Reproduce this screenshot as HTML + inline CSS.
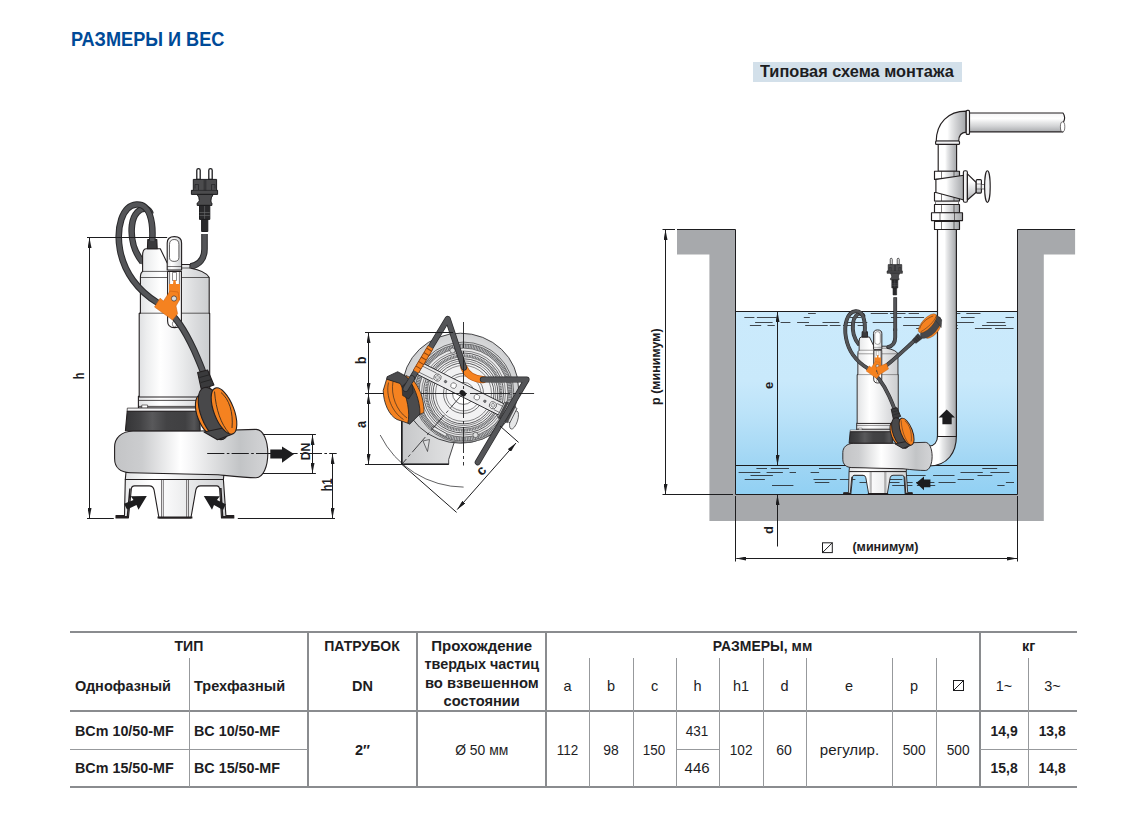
<!DOCTYPE html>
<html lang="ru">
<head>
<meta charset="utf-8">
<title>Размеры и вес</title>
<style>
html,body{margin:0;padding:0;background:#fff;}
body{width:1142px;height:828px;position:relative;overflow:hidden;font-family:"Liberation Sans",sans-serif;color:#1d1d1f;}
h1{position:absolute;left:70.5px;top:26.8px;margin:0;font-size:20.8px;line-height:24px;font-weight:bold;color:#004a98;white-space:nowrap;transform-origin:0 50%;transform:scaleX(.872);}
.cap{position:absolute;left:753px;top:62px;width:209px;height:20px;background:#d3e0ea;}
.cap span{position:absolute;left:7px;top:-1px;line-height:20px;font-size:16.5px;font-weight:bold;color:#1d1d1f;white-space:nowrap;transform-origin:0 50%;transform:scaleX(.99);}
#draw{position:absolute;left:0;top:0;}
/* table */
#tbl{position:absolute;left:70px;top:631px;width:1007px;height:157px;}
#tbl .ln{position:absolute;background:#8a8c8f;}
#tbl .tn{position:absolute;background:#97999c;}
table{position:absolute;left:0;top:2px;border-collapse:collapse;table-layout:fixed;width:1007px;font-size:14.5px;}
td,th{padding:0;margin:0;text-align:center;vertical-align:middle;font-weight:normal;white-space:nowrap;overflow:visible;}
th{font-weight:bold;}
.b{font-weight:bold;}
.l{text-align:left;padding-left:6px;}
td.l,th.l{padding-left:5px;}
.t{display:inline-block;}
tr.r1{height:25px;} tr.r2{height:54px;} tr.r3{height:38px;} tr.r4{height:36px;}
tr.r1 th{vertical-align:top;line-height:17px;padding-top:5px;}
tr.r1 th.ml{line-height:18.3px;padding-top:4px;}
tr.r2 th,tr.r2 td{vertical-align:top;line-height:17px;padding-top:20px;}
tr.r3 td,tr.r4 td{line-height:17px;}
td.m .t{position:relative;top:1.5px;}
tr.r4 td .t{position:relative;top:.5px;}
tr.r2 svg{position:relative;top:-1px;}

</style>
</head>
<body>
<h1>РАЗМЕРЫ И ВЕС</h1>
<div class="cap"><span>Типовая схема монтажа</span></div>

<svg id="draw" width="1142" height="828" viewBox="0 0 1142 828" font-family="Liberation Sans, sans-serif">
<defs>
<linearGradient id="gBody" x1="0" x2="1" y1="0" y2="0">
 <stop offset="0" stop-color="#dfe0e2"/><stop offset=".1" stop-color="#ecedee"/><stop offset=".3" stop-color="#ffffff"/><stop offset=".42" stop-color="#f9f9fa"/><stop offset=".62" stop-color="#e9eaeb"/><stop offset=".8" stop-color="#dadbdd"/><stop offset="1" stop-color="#cbcdcf"/>
</linearGradient>
<linearGradient id="gVol" x1="0" x2="1" y1="0" y2="0">
 <stop offset="0" stop-color="#c3c4c6"/><stop offset=".18" stop-color="#cccdcf"/><stop offset=".43" stop-color="#ffffff"/><stop offset=".5" stop-color="#f6f6f7"/><stop offset=".82" stop-color="#c2c4c6"/><stop offset=".93" stop-color="#cdced0"/><stop offset="1" stop-color="#d3d4d6"/>
</linearGradient>
<linearGradient id="gBand" x1="0" x2="1" y1="0" y2="0">
 <stop offset="0" stop-color="#353537"/><stop offset=".2" stop-color="#434345"/><stop offset=".36" stop-color="#59595b"/><stop offset=".55" stop-color="#434345"/><stop offset=".8" stop-color="#404042"/><stop offset=".92" stop-color="#555557"/><stop offset="1" stop-color="#3a3a3c"/>
</linearGradient>
<linearGradient id="gPipeH" x1="0" x2="0" y1="0" y2="1">
 <stop offset="0" stop-color="#f4f4f5"/><stop offset=".3" stop-color="#ffffff"/><stop offset=".5" stop-color="#e7e8e9"/><stop offset=".7" stop-color="#d2d3d5"/><stop offset="1" stop-color="#a9abae"/>
</linearGradient>
<linearGradient id="gPipeV" x1="0" x2="1" y1="0" y2="0">
 <stop offset="0" stop-color="#ffffff"/><stop offset=".37" stop-color="#ffffff"/><stop offset=".5" stop-color="#e7e8e9"/><stop offset=".65" stop-color="#d2d3d5"/><stop offset="1" stop-color="#a3a5a8"/>
</linearGradient>
<linearGradient id="gWater" x1="0" x2="0" y1="0" y2="1">
 <stop offset="0" stop-color="#cbeafc"/><stop offset=".375" stop-color="#c9e9fb"/><stop offset=".55" stop-color="#bce3f9"/><stop offset=".7" stop-color="#addcf6"/><stop offset=".82" stop-color="#a1d6f4"/><stop offset="1" stop-color="#91d0f3"/>
</linearGradient>
<radialGradient id="gTop" cx=".5" cy=".5" r=".55">
 <stop offset="0" stop-color="#f1f1f2"/><stop offset=".6" stop-color="#e3e4e5"/><stop offset="1" stop-color="#c9cacc"/>
</radialGradient>
<marker id="arr" viewBox="0 0 10 4" refX="10" refY="2" markerWidth="10" markerHeight="4" orient="auto-start-reverse" markerUnits="userSpaceOnUse"><path d="M0 0L10 2L0 4Z" fill="#1d1d1f"/></marker>
<linearGradient id="gOut" x1="0" x2="1" y1="0" y2="0">
 <stop offset="0" stop-color="#c6c7c9"/><stop offset=".5" stop-color="#d9dadb"/><stop offset="1" stop-color="#e8e8e9"/>
</linearGradient>
</defs>

<g id="pump" stroke="#231f20" style="stroke-width:var(--sw,1.1px)" stroke-linejoin="round">
 <!-- inner cable strand behind cap -->
 <path d="M142.5,262 C134,252 130.5,238 132,225 C133.3,214 140,207.3 146.5,209 C148.8,209.8 150,211.5 150.6,214" fill="none" stroke="#2a2a2c" stroke-width="6.6" stroke-linecap="butt"/>
 <path d="M142.5,262 C134,252 130.5,238 132,225 C133.3,214 140,207.3 146.5,209 C148.8,209.8 150,211.5 150.6,214" fill="none" stroke="#545558" stroke-width="4.6" stroke-linecap="round"/>
 <!-- plug cable lower part -->
 <path d="M204.5,234 L204.5,249 C204.5,259 199,265 190.5,266.5" fill="none" stroke="#2a2a2c" stroke-width="6.6"/>
 <path d="M204.5,234 L204.5,249 C204.5,259 199,265 190.5,266.5" fill="none" stroke="#545558" stroke-width="4.6"/>
 <!-- legs -->
 <path d="M116,518 L116,515.6 L124.5,515.6 L125.3,479.5 L223.4,479.5 L225.9,515.6 L233.8,515.6 L233.8,518 L221.5,518 L219.7,489.6 Q219.3,485.9 216.7,485.9 L200.7,485.9 Q196.5,485.9 195.8,490.2 L190.9,518 L159,518 L154.1,490.2 Q153.4,485.9 149.2,485.9 L134.5,485.9 Q131.8,485.9 131.4,488.4 L128.4,518 Z" fill="url(#gBody)"/>
 <path d="M161.5,479.5V517M163.3,479.5V517M186.6,479.5V517M188.5,479.5V517" fill="none" stroke-width=".6"/>
 <path d="M116,517H128.4M221.5,517H233.8M157.5,517.4H192.4" fill="none" stroke-width="2"/>
 <path d="M127.5,516 L130,488.5 M222.5,516 L220.8,488" fill="none" stroke-width="1.6"/>
 <!-- plate between volute and legs -->
 <path d="M126,472 L125.3,479.5 L223.4,479.5 L224,474 Z" fill="url(#gBody)"/>
 <!-- volute -->
 <path d="M133,431 C121,431.5 114.6,438 114.6,447 L114.6,458.5 C114.6,467.5 120.5,472.4 130,472.7 L218,474.8 C233,476.3 245,477.7 256,477.7 C263.5,477.7 267.8,466 267.8,453.5 C267.8,441 263.5,429.4 256,429.4 L200,431 Z" fill="url(#gVol)"/>
 <!-- body lower rings -->
 <rect x="138.4" y="396.4" width="71.6" height="11.7" fill="url(#gBody)"/>
 <path d="M138.4,400.4H210M138.4,406.4H210" fill="none" stroke-width=".8"/>
 <rect x="141.8" y="405" width="5.8" height="3.1" fill="#fff" stroke-width=".6"/>
 <!-- dark band -->
 <path d="M127.3,408.1 H199 L199.3,411.4 H127.1 Z" fill="#f4f4f5" stroke-width=".7"/>
 <path d="M127.2,411.2 L199.4,411.2 L200.2,430.8 L125.4,430.8 Z" fill="url(#gBand)"/>
 <!-- body -->
 <path d="M139.2,397 L139.2,313.2 L140.4,313.2 L140.4,277.5 Q140.4,272.5 142.6,271.4 L142.6,256 Q142.6,248.8 146,248.8 L160.3,248.8 L167.2,263 L181.6,264.5 L190,264.5 L190,268 Q206,271 209.2,277.5 L209.2,313.2 L209.7,313.2 L209.7,397 Z" fill="url(#gBody)"/>
 <path d="M140.4,277.5H167.6M181.4,277.5H209.2M139.2,313.2H167.6M181.4,313.2H209.7M142.6,271.4H167.2M181.6,268H190" fill="none" stroke-width=".7"/>
 <!-- slot -->
 <path d="M167.6,271.4 L167.6,321 Q167.6,327.6 174.5,327.6 Q181.4,327.6 181.4,321 L181.4,271.4 Z" fill="#fff"/>
 <path d="M169.6,271.4V300M179.4,271.4V300" fill="none" stroke-width=".6"/>
 <rect x="172.5" y="272.5" width="4" height="8" fill="#fff" stroke-width=".5"/>
 <path d="M169,284 L173,284 L173.5,280 L175.5,280 L176,284 L180,284 L180,300 L169,300 Z" fill="#f58220" stroke="none"/>
 <ellipse cx="174.5" cy="324" rx="2.2" ry="2.8" fill="#fff" stroke-width=".5"/>
 <!-- handle -->
 <path d="M167.2,270 L167.2,243 Q167.2,236.6 174.4,236.6 Q181.6,236.6 181.6,243 L181.6,270 Z" fill="url(#gBody)"/>
 <path d="M169.5,244.5 Q169.5,239.5 174.2,239.5 Q178.9,239.5 178.9,244.5 L178.9,257.5 Q178.9,261.4 174.2,261.4 Q169.5,261.4 169.5,257.5 Z" fill="#fff" stroke-width=".7"/>
 <path d="M167.2,266.5H181.6" fill="none" stroke-width=".6"/>
 <!-- connector -->
 <path d="M147.8,239.6 L156.8,239.6 L157.2,248.8 L147.4,248.8 Z" fill="#3a3a3c"/>
 <!-- outer cable loop to float -->
 <path id="cab1" d="M152.2,241 C153.5,222 150,203.5 136.5,204.5 C122,205.5 116,228 120,250 C124,272 138,291 158,303 C176,314 186,333 194,350 C198,359 201,366 203.5,373" fill="none" stroke="#2a2a2c" stroke-width="6.6"/>
 <path d="M152.2,241 C153.5,222 150,203.5 136.5,204.5 C122,205.5 116,228 120,250 C124,272 138,291 158,303 C176,314 186,333 194,350 C198,359 201,366 203.5,373" fill="none" stroke="#545558" stroke-width="4.6"/>
 <!-- clip -->
 <path d="M154.5,307 L160.1,298.2 L163.5,301 L170,291 L178,292 L179.5,300 L176,306 L177.6,313.8 L172.6,320.1 Z" fill="#f58220" stroke="#c15a10" stroke-width=".5"/>
 <circle cx="174" cy="298.5" r="2.6" fill="#d9dadb" stroke-width=".6"/>
 <!-- float -->
 <g id="float">
 <path d="M197.6,372.5 L207.6,370 L213.9,385 L201.3,389.4 Z" fill="#3a3a3c"/>
 <path d="M199.5,377.5l9.5,-2.6M201,382.5l10.5,-3" fill="none" stroke="#111" stroke-width=".5"/>
 <ellipse cx="208" cy="415" rx="10.5" ry="22" transform="rotate(-21 208 415)" fill="#f58220"/>
 <ellipse cx="213.5" cy="413.5" rx="12.5" ry="27.5" transform="rotate(-21 213.5 413.5)" fill="#48484a"/>
 <path d="M204,432 L217.5,439.8 L231.5,434.5 L228,427 Z" fill="#48484a"/>
 <ellipse cx="224" cy="411" rx="10" ry="24.5" transform="rotate(-21 224 411)" fill="#f58220"/>
 <path d="M221,392.5 C229,399 233.5,412 232,428" fill="none" stroke-width=".8"/>
 <path d="M214.5,391.5 C216,410 221,424 229,433" fill="none" stroke-width=".8"/>
 </g>
</g>
<!-- plug (big) -->
<g id="plug" stroke="#1d1d1f" stroke-width="1" stroke-linejoin="round">
 <path d="M196.8,179.5V170.3Q196.8,168.6 198.5,168.6Q200.2,168.6 200.2,170.3V179.5Z" fill="#fff" stroke-width="1.3"/>
 <path d="M208.8,179.5V170.3Q208.8,168.6 210.5,168.6Q212.2,168.6 212.2,170.3V179.5Z" fill="#fff" stroke-width="1.3"/>
 <path d="M193.3,179.4H216.6V190.4H217.6V194.4H191.4V190.4H193.3Z" fill="#4b4b4d"/>
 <path d="M191.4,190.4H217.6M204.2,180V190.4M205.8,180V190.4M195,188.5V184.5H198.5V190M215,188.5V184.5H211.5V190" fill="none" stroke-width=".6"/>
 <path d="M197,194.4 H213.2 Q210.6,198 210.9,201 Q211.2,203 211.9,203 V205.4 H197.2 V203 Q198.6,203 199.3,200.5 Q199.5,197 197,194.4Z" fill="#4b4b4d"/>
 <path d="M199.5,205.4H209.8V219.4H199.5Z" fill="#2a2a2c"/>
 <path d="M199.5,212.5H209.8M199.5,215.5H209.8M204.6,206V219" fill="none" stroke="#6d6e70" stroke-width=".6"/>
 <path d="M201.6,219.4H207.8V231.5H201.6Z" fill="#2a2a2c"/>
</g>
<!-- dimensions left -->
<g fill="none" stroke="#1d1d1f" stroke-width="1">
 <path d="M87,237.5H167.2M87,518.5H113.8M237.8,518.5H335"/>
 <path d="M89.5,238V518" marker-start="url(#arr)" marker-end="url(#arr)"/>
 <path d="M207.2,453.5H336.7" stroke-dasharray="17.2 2.4 2.6 2.2"/>
 <path d="M262.8,434.5H315.9M262.8,473.5H315.9"/>
 <path d="M312.5,435V473" marker-start="url(#arr)" marker-end="url(#arr)"/>
 <path d="M332.5,454V518" marker-start="url(#arr)" marker-end="url(#arr)"/>
</g>
<g fill="#1d1d1f" stroke="none">
 <path d="M270.3,449.5H282V446.4L294.1,454L282,462.7V458.5H270.3Z"/>
 <path d="M146.8,496 L130.8,496.3 L133.5,500 L124,503.7 L127,509.5 L136.5,505 L138.5,509.8 Z"/>
 <path d="M203.8,496 L219.8,496.3 L217,500 L225.8,504.3 L223,510 L214,505 L212,509.8 Z"/>
</g>
<g font-weight="bold" font-size="14" fill="#1d1d1f" text-anchor="middle">
 <text transform="translate(84.2,375.9) rotate(-90)" textLength="6.6" lengthAdjust="spacingAndGlyphs">h</text>
 <text transform="translate(309.9,451.4) rotate(-90)" font-size="13.2" textLength="17.6" lengthAdjust="spacingAndGlyphs">DN</text>
 <text transform="translate(331.5,484.8) rotate(-90)" textLength="12.8" lengthAdjust="spacingAndGlyphs">h1</text>
</g>

<g stroke="#1d1d1f" stroke-width=".8" stroke-linejoin="round">
 <!-- outlet -->
 <path d="M401.8,400 L401.8,464.3 L448.7,464.3 L448.7,459.5 L454,443 L470,430 Z" fill="url(#gOut)"/>
 <path d="M401.8,420V464.3H448.7" fill="none" stroke-width="1.6"/>
 <ellipse cx="514" cy="420" rx="3.6" ry="9.5" transform="rotate(18 514 420)" fill="#e6e7e8" stroke-width=".6"/>
 <!-- volute body -->
 <ellipse cx="460.5" cy="388.2" rx="58" ry="55" fill="url(#gTop)"/>
 <!-- ribbed ring -->
 <circle cx="463.5" cy="392.3" r="50.2" fill="#dfe0e1" stroke-width=".6"/>
 <circle cx="463.5" cy="392.6" r="46.6" fill="#e9e9ea" stroke="#bfc0c2" stroke-width="4"/>
 <circle cx="463.5" cy="392.6" r="46.6" fill="none" stroke="#5c5d60" stroke-width="3.4" stroke-dasharray=".7 .9"/>
 <circle cx="463.5" cy="392.6" r="48.7" fill="none" stroke-width=".5"/>
 <circle cx="463.5" cy="392.6" r="44.5" fill="none" stroke-width=".6"/>
 <circle cx="463.5" cy="393" r="42" fill="none" stroke-width=".5"/>
 <circle cx="463.5" cy="393" r="40" fill="#ededee" stroke-width=".7"/>
 <circle cx="463.5" cy="393" r="37.6" fill="none" stroke="#c4c5c7" stroke-width="2.4"/>
 <circle cx="463.5" cy="393" r="37.6" fill="none" stroke="#58595b" stroke-width="2.2" stroke-dasharray=".7 .9"/>
 <circle cx="463.5" cy="393" r="36.2" fill="none" stroke-width=".5"/>
 <circle cx="463.5" cy="393.2" r="34.4" fill="#f2f2f3" stroke-width=".7"/>
 <circle cx="463.5" cy="393.2" r="32.4" fill="none" stroke-width=".5"/>
 <circle cx="463.5" cy="393.4" r="30.5" fill="none" stroke-width=".7"/>
 <circle cx="463.5" cy="393.4" r="28" fill="none" stroke-width=".5"/>
 <circle cx="463.5" cy="393.4" r="20" fill="#f7f7f8" stroke-width=".6"/>
 <circle cx="463.5" cy="393.4" r="17.5" fill="none" stroke-width=".5"/>
 <circle cx="463.5" cy="393.4" r="11" fill="#fff" stroke-width=".6"/>
 <!-- bolt bumps -->
 <circle cx="452.5" cy="350.5" r="2.6" fill="#dcddde" stroke-width=".5"/>
 <circle cx="475.5" cy="435" r="2.6" fill="#dcddde" stroke-width=".5"/>
 <path d="M433,426 l14,8 l-1.5,2.5 l-14,-8 Z" fill="#e6e7e8" stroke-width=".5"/>
 <!-- small triangle on outlet -->
 <path d="M423,441 L429.5,439.5 L427.5,451.5 Z" fill="#dcddde" stroke-width=".6"/>
 <!-- diagonal bar -->
 <g transform="translate(465.2,391.4) rotate(26.6)">
  <rect x="-53" y="-6.2" width="106" height="12.4" rx="2" fill="#ebebec"/>
  <path d="M-53,-3.5H-34M-53,3.5H-34M34,-3.5H53M34,3.5H53" fill="none" stroke-width=".5"/>
  <circle cx="-31" cy="0" r="3.6" fill="#fff" stroke-width=".6"/>
  <circle cx="-31" cy="0" r="2" fill="#d9dadb" stroke-width=".4"/>
  <circle cx="-22" cy="0" r="1.3" fill="#77787b" stroke-width=".4"/>
  <circle cx="-13" cy="0" r="2.8" fill="#fff" stroke-width=".5"/>
  <circle cx="13" cy="0" r="2.8" fill="#fff" stroke-width=".5"/>
  <circle cx="22" cy="0" r="1.3" fill="#77787b" stroke-width=".4"/>
  <circle cx="31" cy="0" r="3.6" fill="#fff" stroke-width=".6"/>
  <circle cx="31" cy="0" r="2" fill="#d9dadb" stroke-width=".4"/>
  <rect x="40" y="-8" width="14" height="16" fill="#dcddde" stroke-width=".6"/>
  <rect x="41" y="-9.5" width="3" height="19" fill="#48484a" stroke="none"/>
  <rect x="49" y="-9.5" width="3" height="19" fill="#48484a" stroke="none"/>
 </g>
 <ellipse cx="462.8" cy="393.2" rx="3.6" ry="2.6" transform="rotate(40 462.8 393.2)" fill="#1d1d1f" stroke="none"/>
 <!-- cables -->
 <g fill="none" stroke-linecap="round" stroke-linejoin="round">
  <path d="M464,367.6 Q468.5,378.5 482.8,379.6" stroke="#c15a10" stroke-width="7.2"/>
  <path d="M464,367.6 Q468.5,378.5 482.8,379.6" stroke="#f58220" stroke-width="6"/>
  <path d="M405.6,388.9 L447.7,318.8 L464,367.6" stroke="#2a2a2c" stroke-width="6"/>
  <path d="M405.6,388.9 L447.7,318.8 L464,367.6" stroke="#545558" stroke-width="4.6"/>
  <path d="M482.8,379.6 L526.6,379.6 L477.7,462.3" stroke="#2a2a2c" stroke-width="6"/>
  <path d="M482.8,379.6 L526.6,379.6 L477.7,462.3" stroke="#545558" stroke-width="4.6"/>
  <path d="M416,371.5 L430.5,347.3" stroke="#8a4310" stroke-width="6.6" stroke-linecap="butt"/>
  <path d="M416,371.5 L430.5,347.3" stroke="#f58220" stroke-width="5.2" stroke-linecap="butt" stroke-dasharray="4.2 1"/>
  
 </g>
 <!-- float -->
 <path d="M406,375.5 C416.5,379.5 424.3,396 424,412.5 L419.5,414.5 L404,380 Z" fill="#f58220" stroke-width=".7"/>
 <path d="M387.1,376.7 L397.7,371.7 L405.6,376 C413.5,383 420.3,401 420,414 L409.6,424.2 L407.5,423 L399,384 L386.6,379.2 Z" fill="#4b4b4d" stroke-width=".8"/>
 <path d="M386.6,379.2 L383.2,390.5 C383.5,403 389,415.5 397,419.5 L407.8,423.2 C410.3,414 407.5,396 400.2,383.5 Z" fill="#f58220" stroke-width=".8"/>
 <path d="M388.5,382.5 C385.5,396 392,412 403.5,419.5" fill="none" stroke-width=".6"/>
 <path d="M393,381.5 C390.5,395 396.5,411 407,418" fill="none" stroke-width=".6"/>
 <path d="M402,386.5 l4.5,-4 l6,2.5 l.6,7.5 l-4.5,6.5 l-6,-3.5 Z" fill="#3a3a3c" stroke-width=".6"/>
 <path d="M405.6,388.9 L412,378.2" fill="none" stroke="#2a2a2c" stroke-width="6" stroke-linecap="round"/>
 <path d="M405.6,388.9 L412,378.2" fill="none" stroke="#545558" stroke-width="4.6" stroke-linecap="round"/>
</g>
<!-- top view dims -->
<g fill="none" stroke="#1d1d1f" stroke-width="1">
 <path d="M365,332.5H453M365,393.5H383.5M365,464.5H401.4"/>
 <path d="M421,393.5H534.1" stroke-dasharray="40 3 3 3" stroke-width=".9"/>
 <path d="M463.5,322V465.5" stroke-dasharray="26 3 3 3" stroke-width=".9"/>
 <path d="M463.2,393.2L401.8,464.3" stroke-dasharray="20 3 3 3" stroke-width=".8"/>
 <path d="M368.5,333V393" marker-start="url(#arr)" marker-end="url(#arr)"/>
 <path d="M368.5,394V464" marker-start="url(#arr)" marker-end="url(#arr)"/>
 <path d="M380.2,435 A93.7,93.7 0 0 0 463.6,487.1" stroke-width=".7"/>
 <path d="M401.8,464.3L456.6,512.4M500,426L518.6,442.4"/>
 <path d="M457.2,509.6L516,443" marker-start="url(#arr)" marker-end="url(#arr)"/>
</g>
<g font-weight="bold" font-size="14" fill="#1d1d1f" text-anchor="middle">
 <text transform="translate(365.5,360.4) rotate(-90)" textLength="7.4" lengthAdjust="spacingAndGlyphs">b</text>
 <text transform="translate(365.5,424.5) rotate(-90)" textLength="7" lengthAdjust="spacingAndGlyphs">a</text>
 <text transform="translate(484.5,473.5) rotate(-48)">c</text>
</g>


<!-- pit walls -->
<path d="M677,229.5H735.5V494.5H1017.5V229.5H1075.1V254.6H1043.8V521H709.4V254.6H677Z" fill="#a7a9ac"/>
<!-- water -->
<rect x="735.5" y="311.5" width="282" height="183" fill="url(#gWater)"/>
<g fill="none" stroke="#1d1d1f" stroke-width="1">
 <path d="M735.5,311.5H1017.5M735.5,465.5H1017.5" stroke-width="1"/>
 <path d="M808.1,313.5H815.8M870.8,313.5H887.9M890.0,313.5H905.5M908.6,313.5H919.0M942.8,313.5H960.3M966.3,313.5H980.5M744.3,317.5H754.4M756.9,317.5H776.7M803.8,317.5H809.8M850.1,317.5H860.9M891.0,317.5H901.4M903.8,317.5H924.1M929.5,317.5H943.5M961.0,317.5H974.6M1005.5,317.5H1014.0M755.1,322.5H772.6M780.6,322.5H790.4M797.1,322.5H809.0M822.5,322.5H839.3M844.0,322.5H867.3M872.7,322.5H894.3M957.0,322.5H973.9M986.6,322.5H1005.3M749.9,325.5H761.2M767.5,325.5H774.8M805.2,325.5H827.7M829.8,325.5H840.6M843.0,325.5H852.1M857.6,325.5H865.9M903.1,325.5H919.6M934.3,325.5H957.7M982.1,325.5H1006.1M916.2,328.5H935.3M941.7,328.5H958.1M974.9,328.5H991.7M995.1,328.5H1013.6" stroke-width=".8"/>
 <path d="M756.4,468.5H767.0M770.8,468.5H789.0M819.0,468.5H841.1M890.2,468.5H906.7M982.3,468.5H997.2M738.6,472.5H760.3M766.6,472.5H782.9M789.6,472.5H796.0M810.6,472.5H819.1M896.6,472.5H905.8M960.5,472.5H982.8M990.4,472.5H1009.4M750.5,475.5H772.9M850.2,475.5H869.1M905.4,475.5H925.6M933.1,475.5H954.5M977.5,475.5H992.3M744.7,479.5H764.9M813.5,479.5H836.6M839.9,479.5H855.4M886.3,479.5H902.4M957.6,479.5H973.9M814.8,482.5H829.3M859.5,482.5H871.2M876.9,482.5H899.5M906.2,482.5H912.6M916.0,482.5H934.4M938.5,482.5H955.6M1005.9,482.5H1014.0M772.0,485.5H793.4M892.2,485.5H912.4M916.9,485.5H935.2M997.3,485.5H1004.6" stroke-width=".8"/>
 <path d="M677,229.5H735.5V494.5H1017.5V229.5H1075.1"/>
</g>
<!-- discharge pipe -->
<g stroke="#231f20" stroke-width="1.15" stroke-linejoin="round">
 <!-- bottom elbow -->
 <path d="M937.5,436 C937.5,442 934,446 928.6,446.3 L928.6,466 C948,466 956.4,452 956.4,436 Z" fill="url(#gPipeV)"/>
 <!-- vertical pipe -->
 <rect x="937.5" y="229" width="18.9" height="207.5" fill="url(#gPipeV)" stroke-width="1.2"/>
 <rect x="938.2" y="144.4" width="18.4" height="27" fill="url(#gPipeV)"/>
 <!-- horizontal pipe -->
 <path d="M969.2,113 H1063 Q1066,117 1063.5,122 Q1060,127 1063,131.8 H969.2 Z" fill="url(#gPipeH)"/>
 <ellipse cx="1062.6" cy="126.8" rx="2.2" ry="5" fill="#fff" stroke-width=".6"/>
 <!-- elbow top -->
 <path d="M966.2,111.1 C948,111.1 936.5,123 936.2,141.2 L958.7,141.2 C958.7,135.5 961,132.3 966.2,132.1 Z" fill="url(#gPipeV)"/>
 <rect x="966.2" y="110.4" width="3.3" height="24" rx="1" fill="#f1f1f2"/>
 <rect x="935.6" y="141" width="23.9" height="3.4" rx="1" fill="#f1f1f2"/>
 <!-- valve -->
 <rect x="934.5" y="171.2" width="25" height="8.2" fill="url(#gPipeV)"/>
 <path d="M941.5,171.2V179.4M954,171.2V179.4" fill="none" stroke-width=".6"/>
 <rect x="934.5" y="192.5" width="25" height="8.5" fill="url(#gPipeV)"/>
 <path d="M941.5,192.5V201M954,192.5V201" fill="none" stroke-width=".6"/>
 <path d="M935.9,179.4 L964,175.2 L964,200 L935.9,192.5 Z" fill="url(#gPipeV)"/>
 <rect x="963.4" y="170.7" width="4" height="31.5" rx="1.5" fill="#f1f1f2"/>
 <path d="M967.4,173.8 L976.2,182.5 L976.2,192.2 L967.4,200 Z" fill="url(#gPipeH)"/>
 <rect x="976.2" y="179.6" width="5.2" height="13.5" rx="1" fill="url(#gPipeH)"/>
 <path d="M976.2,184H981.4M976.2,189H981.4" fill="none" stroke-width=".5"/>
 <rect x="981.4" y="184.5" width="3.6" height="4.5" fill="#f1f1f2" stroke-width=".6"/>
 <ellipse cx="987.4" cy="186.5" rx="2.8" ry="15.8" fill="#f1f1f2"/>
 <!-- lower nuts -->
 <rect x="935.5" y="201.5" width="23" height="3" fill="#f1f1f2" stroke-width=".6"/>
 <rect x="934.5" y="204.5" width="25" height="8.2" fill="url(#gPipeV)"/>
 <path d="M941.5,204.5V212.7M954,204.5V212.7" fill="none" stroke-width=".6"/>
 <rect x="931.5" y="212.7" width="31" height="7.9" fill="url(#gPipeV)"/>
 <path d="M940,212.7V220.6M954.5,212.7V220.6" fill="none" stroke-width=".6"/>
 <rect x="934.5" y="221.4" width="25" height="8.1" fill="url(#gPipeV)"/>
 <path d="M941.5,221.4V229.5M954,221.4V229.5" fill="none" stroke-width=".6"/>
</g>
<!-- small pump (re-use) -->
<use href="#pump" transform="translate(776,192) scale(.583)" style="--sw:1.55px"/>
<use href="#plug" transform="translate(775.5,160) scale(.583)"/>
<g fill="none" stroke-linecap="butt">
 <path d="M895.2,331V297.3" stroke="#2a2a2c" stroke-width="3.8"/>
 <path d="M895.2,331V297.3" stroke="#545558" stroke-width="2.6"/>
 <!-- second float cable -->
 <path d="M877,372.5 C890,364 903,351 915.2,340" stroke="#2a2a2c" stroke-width="3.9"/>
 <path d="M877,372.5 C890,364 903,351 915.2,340" stroke="#545558" stroke-width="2.7"/>
</g>
<g stroke="#1d1d1f" stroke-width=".5">
 <!-- extra clip piece -->
 <path d="M876,367.5 L886.5,363.5 L888.5,369 L878.5,375.5 Z" fill="#f58220" stroke="#c15a10" stroke-width=".4"/>
 <!-- upper float -->
 <use href="#float" transform="translate(914.8,340.8) rotate(-116) scale(.5) translate(-203.5,-373)"/>
</g>
<!-- flow arrows -->
<g fill="#1d1d1f">
 <path d="M946.7,409.5 L955,417.5 L951.7,417.5 L951.7,424.3 L942.4,424.3 L942.4,417.5 L938.6,417.5 Z"/>
 <path d="M916.1,483.1 L924,476.4 L924,479.6 L930.4,479.6 L930.4,487.2 L924,487.2 L924,490.2 Z"/>
</g>
<!-- dims right -->
<g fill="none" stroke="#1d1d1f" stroke-width="1">
 <path d="M662.5,229.5H675M662.5,494.5H733"/>
 <path d="M665.5,230V494" marker-start="url(#arr)" marker-end="url(#arr)"/>
 <path d="M777.5,312V465" marker-start="url(#arr)" marker-end="url(#arr)"/>
 <path d="M777.5,546.5V495" marker-end="url(#arr)"/>
 <path d="M735.5,496V561.5M1017.5,496V561.5"/>
 <path d="M736.3,558.5H1017" marker-start="url(#arr)" marker-end="url(#arr)"/>
 <rect x="822.5" y="542.8" width="9.8" height="9.8"/><path d="M822.5,552.6L832.3,542.8"/>
</g>
<g font-weight="bold" font-size="13" fill="#1d1d1f" text-anchor="middle">
 <text transform="translate(660.2,366.6) rotate(-90)" textLength="76.7" lengthAdjust="spacingAndGlyphs">p (минимум)</text>
 <text transform="translate(773,385.3) rotate(-90)">e</text>
 <text transform="translate(773.2,530.1) rotate(-90)">d</text>
 <text x="885.4" y="551" textLength="66" lengthAdjust="spacingAndGlyphs">(минимум)</text>
</g>

</svg>

<div id="tbl">
<div class="ln" style="left:0;top:0;width:1007px;height:2px"></div>
<div class="ln" style="left:0;top:79px;width:1007px;height:2px"></div>
<div class="ln" style="left:0;top:155px;width:1007px;height:2px"></div>
<div class="ln" style="left:237px;top:0;width:2px;height:157px"></div>
<div class="ln" style="left:346px;top:0;width:2px;height:157px"></div>
<div class="ln" style="left:475px;top:0;width:2px;height:157px"></div>
<div class="ln" style="left:909px;top:0;width:2px;height:157px"></div>
<div class="tn" style="left:119px;top:27px;width:1px;height:129px"></div>
<div class="tn" style="left:519px;top:27px;width:1px;height:129px"></div>
<div class="tn" style="left:563px;top:27px;width:1px;height:129px"></div>
<div class="tn" style="left:606px;top:27px;width:1px;height:129px"></div>
<div class="tn" style="left:649px;top:27px;width:1px;height:129px"></div>
<div class="tn" style="left:693px;top:27px;width:1px;height:129px"></div>
<div class="tn" style="left:736px;top:27px;width:1px;height:129px"></div>
<div class="tn" style="left:822px;top:27px;width:1px;height:129px"></div>
<div class="tn" style="left:866px;top:27px;width:1px;height:129px"></div>
<div class="tn" style="left:958px;top:27px;width:1px;height:129px"></div>
<div class="tn" style="left:0;top:118px;width:238px;height:1px"></div>
<div class="tn" style="left:606px;top:118px;width:43px;height:1px"></div>
<div class="tn" style="left:910px;top:118px;width:97px;height:1px"></div>
<table>
<colgroup><col style="width:119px"><col style="width:119px"><col style="width:109px"><col style="width:129px"><col style="width:43px"><col style="width:44px"><col style="width:43px"><col style="width:43px"><col style="width:44px"><col style="width:43px"><col style="width:86px"><col style="width:44px"><col style="width:44px"><col style="width:48px"><col style="width:49px"></colgroup>
<tr class="r1">
<th colspan="2"><span class="t" style="transform:scaleX(.97)">ТИП</span></th>
<th><span class="t" style="transform:scaleX(.968)">ПАТРУБОК</span></th>
<th rowspan="2" class="ml"><span class="t" style="transform:scaleX(1.036)">Прохождение</span><br><span class="t" style="transform:scaleX(.992)">твердых частиц</span><br><span class="t" style="transform:scaleX(1.02)">во взвешенном</span><br><span class="t" style="transform:scaleX(1.01)">состоянии</span></th>
<th colspan="9"><span class="t" style="transform:scaleX(.964)">РАЗМЕРЫ, мм</span></th>
<th colspan="2"><span class="t">кг</span></th>
</tr>
<tr class="r2">
<th class="l"><span class="t" style="transform-origin:0 50%">Однофазный</span></th>
<th class="l"><span class="t" style="transform-origin:0 50%">Трехфазный</span></th>
<th><span class="t">DN</span></th>
<td>a</td><td>b</td><td>c</td><td>h</td><td>h1</td><td>d</td><td>e</td><td>p</td>
<td><svg width="11" height="11" viewBox="0 0 11 11" style="vertical-align:-1px"><rect x=".5" y=".5" width="10" height="10" fill="none" stroke="#1d1d1f" stroke-width="1"/><path d="M.5 10.5L10.5 .5" stroke="#1d1d1f" stroke-width="1"/></svg></td>
<td>1~</td><td>3~</td>
</tr>
<tr class="r3">
<td class="b l"><span class="t" style="transform-origin:0 50%;transform:scaleX(.988)">BCm 10/50-MF</span></td>
<td class="b l"><span class="t" style="transform-origin:0 50%;transform:scaleX(.988)">BC 10/50-MF</span></td>
<td class="b m" rowspan="2"><span class="t">2″</span></td>
<td class="m" rowspan="2"><span class="t" style="transform:scaleX(.957)">Ø 50 мм</span></td>
<td class="m" rowspan="2"><span class="t" style="transform:scaleX(.93)">112</span></td>
<td class="m" rowspan="2"><span class="t" style="transform:scaleX(.96)">98</span></td>
<td class="m" rowspan="2"><span class="t" style="transform:scaleX(.93)">150</span></td>
<td><span class="t" style="transform:scaleX(.93)">431</span></td>
<td class="m" rowspan="2"><span class="t" style="transform:scaleX(.94)">102</span></td>
<td class="m" rowspan="2"><span class="t" style="transform:scaleX(.97)">60</span></td>
<td class="m" rowspan="2"><span class="t" style="transform:scaleX(1.04)">регулир.</span></td>
<td class="m" rowspan="2"><span class="t" style="transform:scaleX(.945)">500</span></td>
<td class="m" rowspan="2"><span class="t" style="transform:scaleX(.945)">500</span></td>
<td class="b"><span class="t" style="transform:scaleX(.96)">14,9</span></td>
<td class="b"><span class="t" style="transform:scaleX(.955)">13,8</span></td>
</tr>
<tr class="r4">
<td class="b l"><span class="t" style="transform-origin:0 50%;transform:scaleX(.988)">BCm 15/50-MF</span></td>
<td class="b l"><span class="t" style="transform-origin:0 50%;transform:scaleX(.988)">BC 15/50-MF</span></td>
<td><span class="t" style="transform:scaleX(1.04)">446</span></td>
<td class="b"><span class="t" style="transform:scaleX(.96)">15,8</span></td>
<td class="b"><span class="t" style="transform:scaleX(.96)">14,8</span></td>
</tr>
</table>

</div>
</body>
</html>
